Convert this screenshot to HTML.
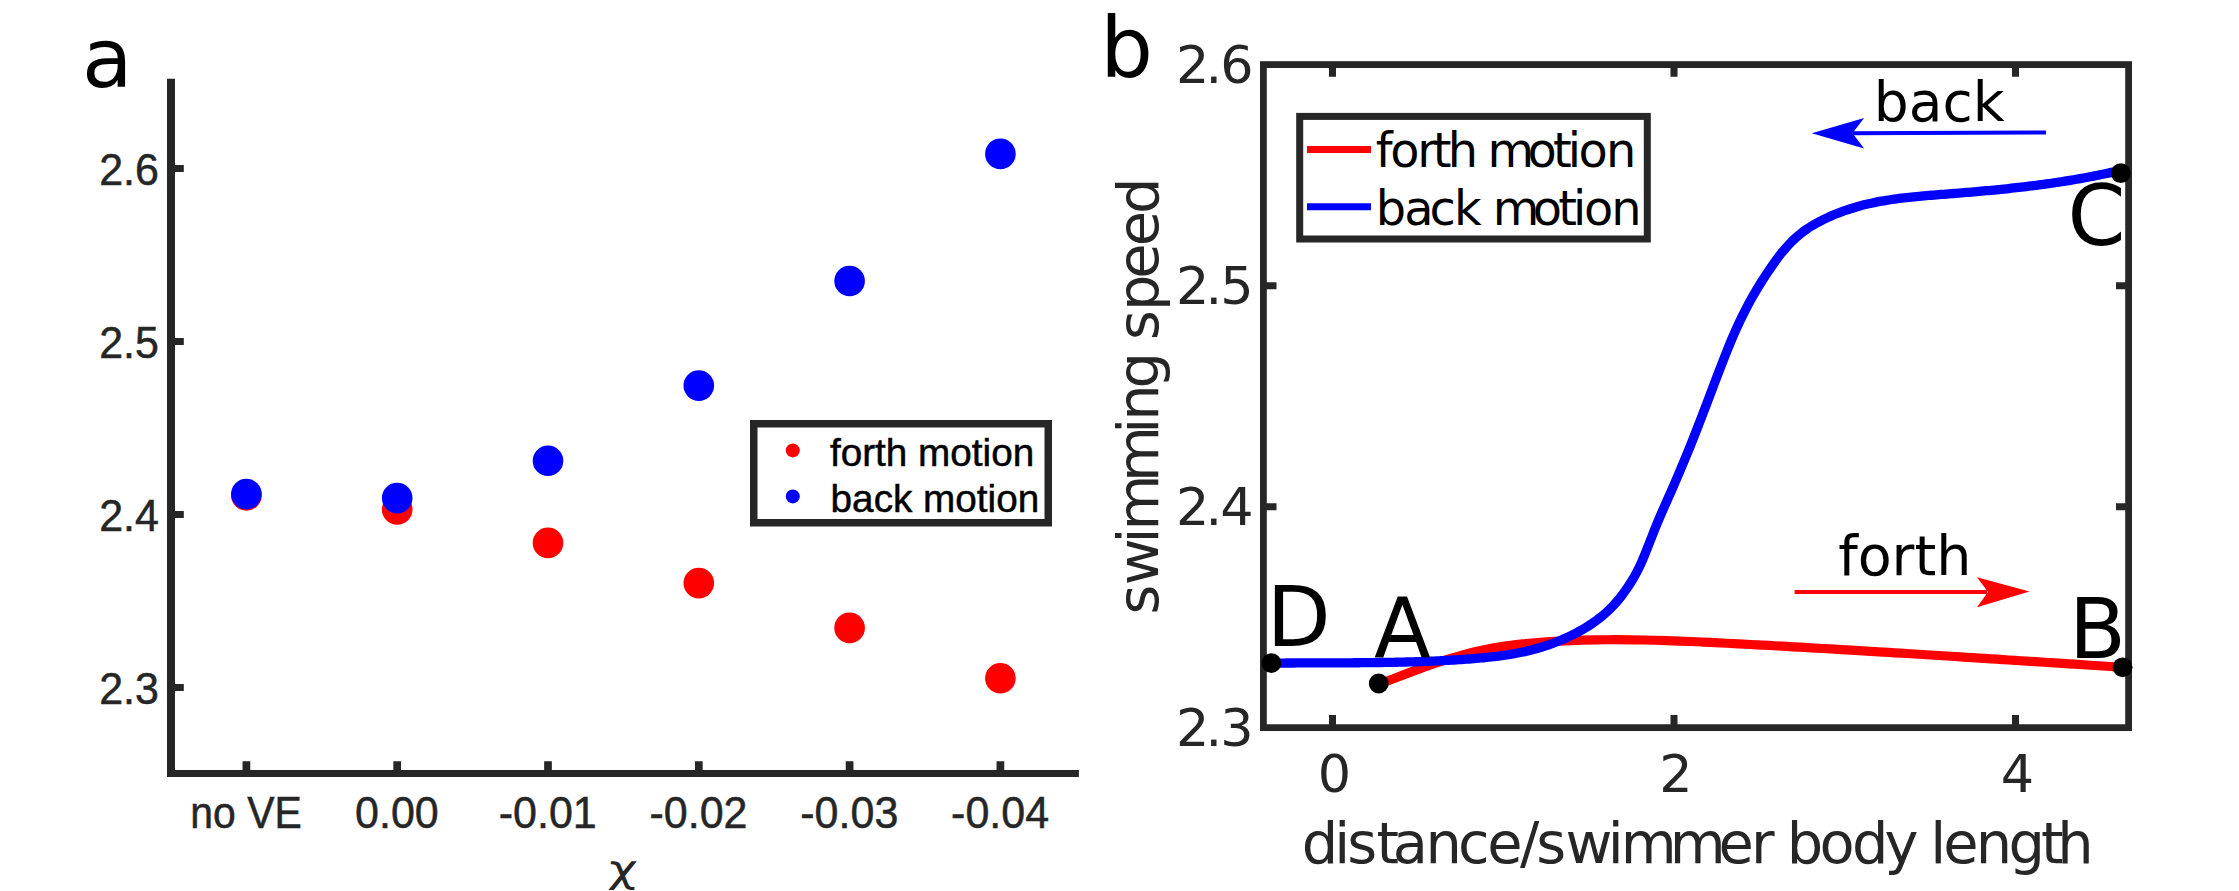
<!DOCTYPE html>
<html lang="en">
<head>
<meta charset="utf-8">
<title>Swimming speed: forth and back motion</title>
<style>
html,body{margin:0;padding:0;background:#fff;}
body{width:2239px;height:891px;overflow:hidden;}
svg{display:block;}
.dj{font-family:"DejaVu Sans","Liberation Sans",sans-serif;}
.lb{font-family:"Liberation Sans","DejaVu Sans",sans-serif;}
.chi{font-family:"DejaVu Sans","Liberation Sans",sans-serif;}
text{white-space:pre;}
</style>
</head>
<body>
<svg width="2239" height="891" viewBox="0 0 2239 891">
<rect width="2239" height="891" fill="#fff"/>
<g id="panel-a">
<path d="M171 78.8V776.9" stroke="#262626" stroke-width="8" fill="none"/>
<path d="M167 773.5H1078.9" stroke="#262626" stroke-width="6.8" fill="none"/>
<path d="M174 168.5H183.8M174 341.5H183.8M174 514.5H183.8M174 687.5H183.8" stroke="#262626" stroke-width="7" fill="none"/>
<path d="M246.4 771V761.2M397.2 771V761.2M548 771V761.2M698.8 771V761.2M849.6 771V761.2M1000.4 771V761.2" stroke="#262626" stroke-width="7.7" fill="none"/>
<text class="lb" transform="translate(158.9 184.8) scale(1 1.02)" font-size="43" text-anchor="end" fill="#262626" stroke="#262626" stroke-width="0.5">2.6</text>
<text class="lb" transform="translate(158.9 357.8) scale(1 1.02)" font-size="43" text-anchor="end" fill="#262626" stroke="#262626" stroke-width="0.5">2.5</text>
<text class="lb" transform="translate(158.9 530.8) scale(1 1.02)" font-size="43" text-anchor="end" fill="#262626" stroke="#262626" stroke-width="0.5">2.4</text>
<text class="lb" transform="translate(158.9 703.8) scale(1 1.02)" font-size="43" text-anchor="end" fill="#262626" stroke="#262626" stroke-width="0.5">2.3</text>
<text class="lb" transform="translate(246.1 828.4) scale(1 1.02)" font-size="43" text-anchor="middle" fill="#262626" stroke="#262626" stroke-width="0.5" textLength="111.5" lengthAdjust="spacingAndGlyphs">no VE</text>
<text class="lb" transform="translate(396.9 828.4) scale(1 1.02)" font-size="43" text-anchor="middle" fill="#262626" stroke="#262626" stroke-width="0.5">0.00</text>
<text class="lb" transform="translate(547.7 828.4) scale(1 1.02)" font-size="43" text-anchor="middle" fill="#262626" stroke="#262626" stroke-width="0.5">-0.01</text>
<text class="lb" transform="translate(698.5 828.4) scale(1 1.02)" font-size="43" text-anchor="middle" fill="#262626" stroke="#262626" stroke-width="0.5">-0.02</text>
<text class="lb" transform="translate(849.3 828.4) scale(1 1.02)" font-size="43" text-anchor="middle" fill="#262626" stroke="#262626" stroke-width="0.5">-0.03</text>
<text class="lb" transform="translate(1000.1 828.4) scale(1 1.02)" font-size="43" text-anchor="middle" fill="#262626" stroke="#262626" stroke-width="0.5">-0.04</text>
<text class="chi" transform="translate(622 881.6) skewX(-5) scale(1.3 1)" font-size="38" text-anchor="middle" fill="#262626">χ</text>
<circle cx="246.4" cy="495.4" r="15.3" fill="#ff0000"/>
<circle cx="397.2" cy="509.5" r="15.3" fill="#ff0000"/>
<circle cx="548" cy="542.9" r="15.3" fill="#ff0000"/>
<circle cx="698.8" cy="583.1" r="15.3" fill="#ff0000"/>
<circle cx="849.6" cy="627.9" r="15.3" fill="#ff0000"/>
<circle cx="1000.4" cy="678.3" r="15.3" fill="#ff0000"/>
<circle cx="246.4" cy="494.1" r="15.3" fill="#0000ff"/>
<circle cx="397.2" cy="498.1" r="15.3" fill="#0000ff"/>
<circle cx="548" cy="460.7" r="15.3" fill="#0000ff"/>
<circle cx="698.8" cy="385.6" r="15.3" fill="#0000ff"/>
<circle cx="849.6" cy="281" r="15.3" fill="#0000ff"/>
<circle cx="1000.4" cy="153.9" r="15.3" fill="#0000ff"/>
<rect x="753.75" y="423.75" width="294.5" height="99" fill="#fff" stroke="#262626" stroke-width="7.5"/>
<circle cx="792.8" cy="450.4" r="7" fill="#ff0000"/><circle cx="792.8" cy="496.4" r="7" fill="#0000ff"/>
<text class="lb" transform="translate(829.9 466) scale(1 1)" font-size="38.7" text-anchor="start" fill="#000" stroke="#000" stroke-width="0.5">forth motion</text>
<text class="lb" transform="translate(830.6 511.7) scale(1 1)" font-size="38.7" text-anchor="start" fill="#000" stroke="#000" stroke-width="0.5">back motion</text>
<text class="dj" x="82.11" y="86.6" font-size="82.5" fill="#000">a</text>
</g>
<g id="panel-b">
<path d="M1378.75 684.4C1380.75 683.62 1386.75 681.29 1390.75 679.75C1394.75 678.21 1398.75 676.66 1402.75 675.13C1406.75 673.61 1410.75 672.09 1414.75 670.61C1418.75 669.14 1422.75 667.67 1426.75 666.26C1430.75 664.85 1434.75 663.46 1438.75 662.14C1442.75 660.81 1446.75 659.53 1450.75 658.31C1454.75 657.1 1458.75 655.94 1462.75 654.86C1466.75 653.78 1470.75 652.76 1474.75 651.83C1478.75 650.9 1482.75 650.05 1486.75 649.26C1490.75 648.48 1494.75 647.77 1498.75 647.11C1502.75 646.46 1506.75 645.87 1510.75 645.33C1514.75 644.79 1518.75 644.32 1522.75 643.88C1526.75 643.45 1530.75 643.07 1534.75 642.72C1538.75 642.37 1542.75 642.08 1546.75 641.8C1550.75 641.53 1554.75 641.3 1558.75 641.09C1562.75 640.88 1566.75 640.7 1570.75 640.54C1574.75 640.38 1578.75 640.25 1582.75 640.13C1586.75 640.02 1590.75 639.93 1594.75 639.87C1598.75 639.8 1602.75 639.75 1606.75 639.73C1610.75 639.7 1614.75 639.7 1618.75 639.71C1622.75 639.72 1626.75 639.75 1630.75 639.79C1634.75 639.84 1638.75 639.9 1642.75 639.98C1646.75 640.05 1650.75 640.15 1654.75 640.25C1658.75 640.36 1662.75 640.47 1666.75 640.6C1670.75 640.73 1674.75 640.87 1678.75 641.03C1682.75 641.18 1686.75 641.34 1690.75 641.51C1694.75 641.68 1698.75 641.86 1702.75 642.04C1706.75 642.22 1710.75 642.42 1714.75 642.61C1718.75 642.81 1722.75 643.01 1726.75 643.22C1730.75 643.42 1734.75 643.63 1738.75 643.84C1742.75 644.05 1746.75 644.26 1750.75 644.48C1754.75 644.69 1758.75 644.91 1762.75 645.12C1766.75 645.34 1770.75 645.56 1774.75 645.78C1778.75 646 1782.75 646.22 1786.75 646.45C1790.75 646.67 1794.75 646.9 1798.75 647.12C1802.75 647.35 1806.75 647.58 1810.75 647.81C1814.75 648.03 1818.75 648.26 1822.75 648.5C1826.75 648.73 1830.75 648.96 1834.75 649.2C1838.75 649.43 1842.75 649.67 1846.75 649.9C1850.75 650.14 1854.75 650.38 1858.75 650.62C1862.75 650.86 1866.75 651.1 1870.75 651.34C1874.75 651.58 1878.75 651.82 1882.75 652.06C1886.75 652.31 1890.75 652.55 1894.75 652.8C1898.75 653.04 1902.75 653.29 1906.75 653.53C1910.75 653.78 1914.75 654.03 1918.75 654.28C1922.75 654.52 1926.75 654.77 1930.75 655.02C1934.75 655.27 1938.75 655.52 1942.75 655.77C1946.75 656.03 1950.75 656.28 1954.75 656.53C1958.75 656.78 1962.75 657.04 1966.75 657.29C1970.75 657.54 1974.75 657.8 1978.75 658.05C1982.75 658.31 1986.75 658.56 1990.75 658.82C1994.75 659.07 1998.75 659.33 2002.75 659.58C2006.75 659.84 2010.75 660.09 2014.75 660.35C2018.75 660.61 2022.75 660.86 2026.75 661.12C2030.75 661.38 2034.75 661.64 2038.75 661.89C2042.75 662.15 2046.75 662.41 2050.75 662.67C2054.75 662.92 2058.75 663.18 2062.75 663.44C2066.75 663.7 2070.75 663.95 2074.75 664.21C2078.75 664.47 2082.75 664.73 2086.75 664.98C2090.75 665.24 2094.75 665.5 2098.75 665.75C2102.75 666.01 2106.78 666.27 2110.75 666.52C2114.72 666.78 2120.62 667.16 2122.6 667.28" stroke="#ff0000" stroke-width="9.2" fill="none" stroke-linejoin="round"/>
<path d="M1271.4 663.15C1272.23 663.15 1274.73 663.12 1276.4 663.1C1278.07 663.08 1279.73 663.07 1281.4 663.06C1283.07 663.04 1284.73 663.03 1286.4 663.02C1288.07 663.01 1289.73 663 1291.4 662.99C1293.07 662.98 1294.73 662.97 1296.4 662.96C1298.07 662.95 1299.73 662.95 1301.4 662.94C1303.07 662.93 1304.73 662.93 1306.4 662.92C1308.07 662.92 1309.73 662.91 1311.4 662.91C1313.07 662.9 1314.73 662.9 1316.4 662.89C1318.07 662.89 1319.73 662.88 1321.4 662.88C1323.07 662.88 1324.73 662.87 1326.4 662.87C1328.07 662.86 1329.73 662.86 1331.4 662.86C1333.07 662.85 1334.73 662.85 1336.4 662.84C1338.07 662.84 1339.73 662.83 1341.4 662.83C1343.07 662.82 1344.73 662.81 1346.4 662.81C1348.07 662.8 1349.73 662.79 1351.4 662.78C1353.07 662.78 1354.73 662.77 1356.4 662.76C1358.07 662.75 1359.73 662.73 1361.4 662.72C1363.07 662.71 1364.73 662.7 1366.4 662.68C1368.07 662.67 1369.73 662.65 1371.4 662.63C1373.07 662.62 1374.73 662.6 1376.4 662.58C1378.07 662.56 1379.73 662.53 1381.4 662.51C1383.07 662.49 1384.73 662.46 1386.4 662.44C1388.07 662.41 1389.73 662.38 1391.4 662.35C1393.07 662.32 1394.73 662.29 1396.4 662.25C1398.07 662.22 1399.73 662.18 1401.4 662.14C1403.07 662.1 1404.73 662.06 1406.4 662.02C1408.07 661.97 1409.73 661.93 1411.4 661.88C1413.07 661.83 1414.73 661.78 1416.4 661.73C1418.07 661.67 1419.73 661.62 1421.4 661.56C1423.07 661.5 1424.73 661.44 1426.4 661.37C1428.07 661.31 1429.73 661.24 1431.4 661.17C1433.07 661.1 1434.73 661.02 1436.4 660.95C1438.07 660.87 1439.73 660.79 1441.4 660.71C1443.07 660.62 1444.73 660.54 1446.4 660.44C1448.07 660.35 1449.73 660.26 1451.4 660.16C1453.07 660.06 1454.73 659.96 1456.4 659.86C1458.07 659.75 1459.73 659.64 1461.4 659.53C1463.07 659.42 1464.73 659.3 1466.4 659.18C1468.07 659.06 1469.73 658.93 1471.4 658.8C1473.07 658.68 1474.73 658.54 1476.4 658.4C1478.07 658.26 1479.73 658.12 1481.4 657.96C1483.07 657.81 1484.73 657.65 1486.4 657.48C1488.07 657.32 1489.73 657.14 1491.4 656.95C1493.07 656.77 1494.73 656.57 1496.4 656.37C1498.07 656.16 1499.73 655.94 1501.4 655.71C1503.07 655.48 1504.73 655.24 1506.4 654.99C1508.07 654.73 1509.73 654.46 1511.4 654.18C1513.07 653.89 1514.73 653.6 1516.4 653.28C1518.07 652.97 1519.73 652.64 1521.4 652.29C1523.07 651.94 1524.73 651.58 1526.4 651.19C1528.07 650.81 1529.73 650.41 1531.4 649.99C1533.07 649.56 1534.73 649.12 1536.4 648.66C1538.07 648.2 1539.73 647.71 1541.4 647.21C1543.07 646.7 1544.73 646.17 1546.4 645.62C1548.07 645.07 1549.73 644.49 1551.4 643.89C1553.07 643.29 1554.73 642.66 1556.4 642.01C1558.07 641.36 1559.73 640.68 1561.4 639.97C1563.07 639.27 1564.73 638.54 1566.4 637.77C1568.07 637.01 1569.73 636.22 1571.4 635.4C1573.07 634.58 1574.73 633.73 1576.4 632.84C1578.07 631.96 1579.73 631.05 1581.4 630.1C1583.07 629.16 1584.73 628.18 1586.4 627.16C1588.07 626.15 1589.73 625.1 1591.4 624C1593.07 622.89 1594.73 621.75 1596.4 620.53C1598.07 619.32 1599.73 618.05 1601.4 616.69C1603.07 615.34 1604.73 613.92 1606.4 612.4C1608.07 610.89 1609.73 609.29 1611.4 607.59C1613.07 605.88 1614.73 604.09 1616.4 602.17C1618.07 600.25 1619.73 598.23 1621.4 596.07C1623.07 593.92 1624.73 591.65 1626.4 589.22C1628.07 586.8 1629.73 584.28 1631.4 581.55C1633.07 578.81 1634.73 575.97 1636.4 572.81C1638.07 569.64 1639.73 566.24 1641.4 562.54C1643.07 558.84 1644.73 554.72 1646.4 550.61C1648.07 546.49 1649.73 542.08 1651.4 537.85C1653.07 533.63 1654.73 529.33 1656.4 525.26C1658.07 521.19 1659.73 517.29 1661.4 513.43C1663.07 509.56 1664.73 505.84 1666.4 502.06C1668.07 498.28 1669.73 494.56 1671.4 490.76C1673.07 486.95 1674.73 483.12 1676.4 479.24C1678.07 475.36 1679.73 471.44 1681.4 467.47C1683.07 463.51 1684.73 459.5 1686.4 455.44C1688.07 451.39 1689.73 447.29 1691.4 443.14C1693.07 438.99 1694.73 434.8 1696.4 430.55C1698.07 426.31 1699.73 422 1701.4 417.68C1703.07 413.35 1704.73 408.96 1706.4 404.58C1708.07 400.19 1709.73 395.77 1711.4 391.36C1713.07 386.96 1714.73 382.52 1716.4 378.14C1718.07 373.76 1719.73 369.38 1721.4 365.09C1723.07 360.79 1724.73 356.52 1726.4 352.37C1728.07 348.21 1729.73 344.11 1731.4 340.16C1733.07 336.21 1734.73 332.34 1736.4 328.64C1738.07 324.94 1739.73 321.38 1741.4 317.94C1743.07 314.51 1744.73 311.22 1746.4 308.04C1748.07 304.85 1749.73 301.79 1751.4 298.82C1753.07 295.84 1754.73 292.98 1756.4 290.18C1758.07 287.39 1759.73 284.69 1761.4 282.04C1763.07 279.4 1764.73 276.83 1766.4 274.29C1768.07 271.76 1769.73 269.27 1771.4 266.84C1773.07 264.42 1774.73 262.02 1776.4 259.74C1778.07 257.46 1779.73 255.25 1781.4 253.17C1783.07 251.09 1784.73 249.13 1786.4 247.27C1788.07 245.41 1789.73 243.66 1791.4 242C1793.07 240.34 1794.73 238.79 1796.4 237.31C1798.07 235.83 1799.73 234.45 1801.4 233.14C1803.07 231.83 1804.73 230.6 1806.4 229.44C1808.07 228.27 1809.73 227.18 1811.4 226.14C1813.07 225.1 1814.73 224.13 1816.4 223.19C1818.07 222.26 1819.73 221.38 1821.4 220.54C1823.07 219.69 1824.73 218.89 1826.4 218.12C1828.07 217.34 1829.73 216.6 1831.4 215.88C1833.07 215.16 1834.73 214.47 1836.4 213.8C1838.07 213.14 1839.73 212.5 1841.4 211.88C1843.07 211.27 1844.73 210.68 1846.4 210.11C1848.07 209.54 1849.73 208.99 1851.4 208.47C1853.07 207.95 1854.73 207.45 1856.4 206.97C1858.07 206.49 1859.73 206.03 1861.4 205.59C1863.07 205.15 1864.73 204.73 1866.4 204.33C1868.07 203.92 1869.73 203.54 1871.4 203.17C1873.07 202.81 1874.73 202.46 1876.4 202.13C1878.07 201.79 1879.73 201.48 1881.4 201.17C1883.07 200.87 1884.73 200.58 1886.4 200.31C1888.07 200.03 1889.73 199.77 1891.4 199.52C1893.07 199.27 1894.73 199.03 1896.4 198.81C1898.07 198.58 1899.73 198.37 1901.4 198.16C1903.07 197.95 1904.73 197.76 1906.4 197.57C1908.07 197.38 1909.73 197.21 1911.4 197.03C1913.07 196.86 1914.73 196.7 1916.4 196.54C1918.07 196.38 1919.73 196.23 1921.4 196.08C1923.07 195.94 1924.73 195.79 1926.4 195.66C1928.07 195.52 1929.73 195.38 1931.4 195.25C1933.07 195.12 1934.73 194.99 1936.4 194.86C1938.07 194.73 1939.73 194.6 1941.4 194.47C1943.07 194.34 1944.73 194.21 1946.4 194.09C1948.07 193.96 1949.73 193.83 1951.4 193.69C1953.07 193.56 1954.73 193.43 1956.4 193.3C1958.07 193.16 1959.73 193.03 1961.4 192.89C1963.07 192.76 1964.73 192.62 1966.4 192.48C1968.07 192.34 1969.73 192.2 1971.4 192.06C1973.07 191.92 1974.73 191.77 1976.4 191.63C1978.07 191.48 1979.73 191.33 1981.4 191.18C1983.07 191.03 1984.73 190.88 1986.4 190.73C1988.07 190.58 1989.73 190.42 1991.4 190.26C1993.07 190.1 1994.73 189.94 1996.4 189.78C1998.07 189.61 1999.73 189.45 2001.4 189.28C2003.07 189.11 2004.73 188.94 2006.4 188.76C2008.07 188.59 2009.73 188.41 2011.4 188.23C2013.07 188.05 2014.73 187.87 2016.4 187.68C2018.07 187.5 2019.73 187.31 2021.4 187.11C2023.07 186.92 2024.73 186.72 2026.4 186.52C2028.07 186.32 2029.73 186.12 2031.4 185.91C2033.07 185.7 2034.73 185.49 2036.4 185.28C2038.07 185.06 2039.73 184.84 2041.4 184.62C2043.07 184.4 2044.73 184.17 2046.4 183.94C2048.07 183.71 2049.73 183.47 2051.4 183.23C2053.07 182.99 2054.73 182.75 2056.4 182.5C2058.07 182.25 2059.73 182 2061.4 181.74C2063.07 181.48 2064.73 181.22 2066.4 180.95C2068.07 180.68 2069.73 180.41 2071.4 180.13C2073.07 179.85 2074.73 179.57 2076.4 179.28C2078.07 178.99 2079.73 178.7 2081.4 178.4C2083.07 178.1 2084.73 177.79 2086.4 177.48C2088.07 177.17 2089.73 176.86 2091.4 176.54C2093.07 176.22 2094.73 175.89 2096.4 175.55C2098.07 175.22 2099.73 174.88 2101.4 174.54C2103.07 174.19 2104.73 173.84 2106.4 173.48C2108.07 173.13 2109.73 172.76 2111.4 172.39C2113.07 172.02 2114.8 171.63 2116.4 171.26C2118 170.89 2120.23 170.37 2121 170.19" stroke="#0000ff" stroke-width="9.3" fill="none" stroke-linejoin="round"/>
<rect x="1263.4" y="64.6" width="865.2" height="663.05" fill="none" stroke="#262626" stroke-width="6.8"/>
<path d="M1332.5 727.65V714.9M1332.5 64.6V76.8M1674 727.65V714.9M1674 64.6V76.8M2015.5 727.65V714.9M2015.5 64.6V76.8M1263.4 285.77H1276.5M2128.6 285.77H2116M1263.4 506.74H1276.5M2128.6 506.74H2116" stroke="#262626" stroke-width="7" fill="none"/>
<text class="dj" x="1175.9 1205.54 1220.35" y="82.8" font-size="52.4" fill="#262626">2.6</text>
<text class="dj" x="1175.9 1205.54 1220.35" y="303.77" font-size="52.4" fill="#262626">2.5</text>
<text class="dj" x="1175.9 1205.54 1220.35" y="524.74" font-size="52.4" fill="#262626">2.4</text>
<text class="dj" x="1175.9 1205.54 1220.35" y="745.71" font-size="52.4" fill="#262626">2.3</text>
<text class="dj" x="1317.68" y="792.2" font-size="52.4" fill="#262626">0</text>
<text class="dj" x="1659.18" y="792.2" font-size="52.4" fill="#262626">2</text>
<text class="dj" x="2000.68" y="792.2" font-size="52.4" fill="#262626">4</text>
<g transform="translate(1158.2 611.3) rotate(-90)">
<text class="dj" x="-3.11 25.94 67.9 80.8 129.2 177.6 190.51 222.82 255.13 271.28 300.33 332.64 364.95 397.26" y="0" font-size="57.4" fill="#262626">swimming speed</text>
</g>
<text class="dj" x="1301.63 1334.22 1347.24 1376.54 1392.82 1425.41 1458 1487.3 1519.9 1536.18 1565.48 1607.8 1620.81 1669.63 1718.44 1751.03 1770.55 1786.83 1819.42 1852.01 1884.6 1913.9 1930.18 1943.2 1975.79 2008.38 2040.97 2057.25" y="862.5" font-size="57.4" fill="#262626">distance/swimmer body length</text>
<rect x="1299.7" y="116.4" width="347.6" height="122.6" fill="#fff" stroke="#262626" stroke-width="7"/>
<path d="M1307 149.4H1371" stroke="#ff0000" stroke-width="7"/><path d="M1307 206.7H1371" stroke="#0000ff" stroke-width="7"/>
<text class="dj" x="1375.84 1390.36 1417.32 1432.78 1447.77 1475 1487.5 1527.46 1552.98 1567.72 1578.56 1605.92" y="166.8" font-size="47.8" fill="#000">forth motion</text>
<text class="dj" x="1375.75 1404.2 1429.4 1453.98 1480 1492.86 1532.82 1558.34 1573.08 1583.92 1611.28" y="224.5" font-size="47.8" fill="#000">back motion</text>
<path d="M2046 132.5L1853 133.3" stroke="#0000ff" stroke-width="4" fill="none"/>
<path d="M1811.8 133.2L1864.1 118L1852.5 133.3L1864.1 148.6Z" fill="#0000ff"/>
<text class="dj" x="1873.8" y="121.1" font-size="55" fill="#000">back</text>
<path d="M1794.6 591.9L1987 591.9" stroke="#ff0000" stroke-width="4" fill="none"/>
<path d="M2029.6 591.5L1977 577.2L1988 592L1977 607.2Z" fill="#ff0000"/>
<text class="dj" x="1838.13" y="574.9" font-size="55.5" fill="#000">forth</text>
<circle cx="1271.4" cy="663.1" r="9.9" fill="#000"/>
<circle cx="1378.75" cy="683.5" r="9.9" fill="#000"/>
<circle cx="2122.6" cy="667.3" r="9.9" fill="#000"/>
<circle cx="2120.8" cy="173.2" r="9.9" fill="#000"/>
<text class="dj" x="1266.83" y="645.9" font-size="83" fill="#000">D</text>
<text class="dj" x="1374.05" y="658.4" font-size="83" fill="#000">A</text>
<text class="dj" x="2069.05" y="657.7" font-size="83" fill="#000">B</text>
<text class="dj" x="2067.44" y="244.6" font-size="83" fill="#000">C</text>
<text class="dj" x="1100.36" y="76.7" font-size="83" fill="#000">b</text>
</g>
</svg>
</body>
</html>
